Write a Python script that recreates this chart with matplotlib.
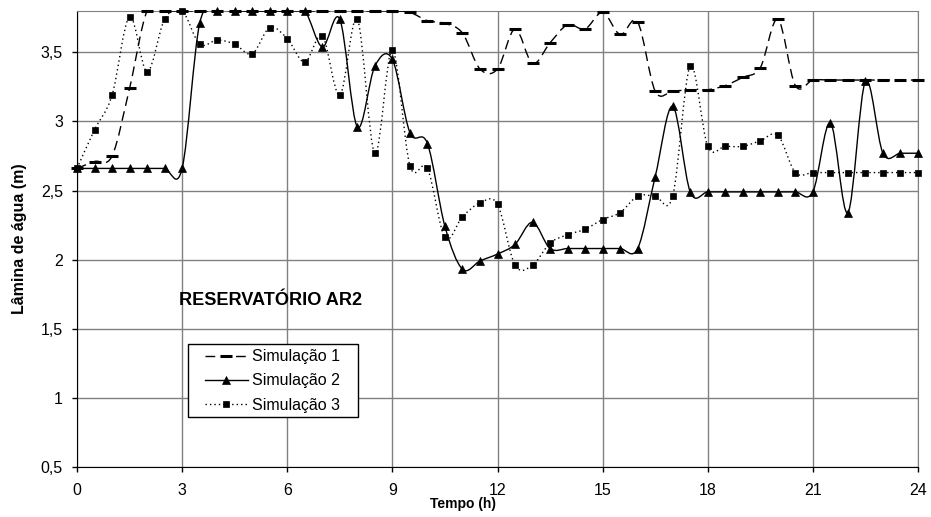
import matplotlib
matplotlib.use("Agg")
import matplotlib.pyplot as plt
from matplotlib.legend_handler import HandlerLine2D
from matplotlib.lines import Line2D
from matplotlib.patches import PathPatch
from matplotlib.path import Path
from matplotlib.ticker import FuncFormatter
import numpy as np

plt.rcParams["font.family"] = ["Liberation Sans", "DejaVu Sans"]

# ── data (every 0.5 h) ─────────────────────────────────────────────────────────
tempo = [i * 0.5 for i in range(49)]

sim1 = [2.66, 2.71, 2.75, 3.24, 3.80, 3.80, 3.80, 3.80, 3.80, 3.80,
        3.80, 3.80, 3.80, 3.80, 3.80, 3.80, 3.80, 3.80, 3.80, 3.79,
        3.73, 3.71, 3.64, 3.38, 3.38, 3.67, 3.42, 3.57, 3.70, 3.67,
        3.79, 3.63, 3.72, 3.22, 3.22, 3.23, 3.23, 3.26, 3.32, 3.39,
        3.74, 3.26, 3.30, 3.30, 3.30, 3.30, 3.30, 3.30, 3.30]

sim2 = [2.66, 2.66, 2.66, 2.66, 2.66, 2.66, 2.66, 3.71, 3.80, 3.80,
        3.80, 3.80, 3.80, 3.80, 3.54, 3.74, 2.96, 3.40, 3.45, 2.92,
        2.84, 2.24, 1.93, 1.99, 2.04, 2.11, 2.27, 2.08, 2.08, 2.08,
        2.08, 2.08, 2.08, 2.60, 3.11, 2.49, 2.49, 2.49, 2.49, 2.49,
        2.49, 2.49, 2.49, 2.99, 2.34, 3.29, 2.77, 2.77, 2.77]

sim3 = [2.66, 2.94, 3.19, 3.76, 3.36, 3.74, 3.80, 3.56, 3.59, 3.56,
        3.49, 3.68, 3.60, 3.43, 3.62, 3.19, 3.74, 2.77, 3.52, 2.68,
        2.66, 2.16, 2.31, 2.41, 2.40, 1.96, 1.96, 2.12, 2.18, 2.22,
        2.29, 2.34, 2.46, 2.46, 2.46, 3.40, 2.82, 2.82, 2.82, 2.86,
        2.90, 2.63, 2.63, 2.63, 2.63, 2.63, 2.63, 2.63, 2.63]

labels = ["Simulação 1", "Simulação 2", "Simulação 3"]


def smooth_path(x, y):
    """Excel-like smoothed line: cubic Bezier segments (Catmull-Rom)."""
    p = np.column_stack([x, y])
    n = len(p)
    verts = [p[0]]
    codes = [Path.MOVETO]
    for i in range(n - 1):
        p0 = p[i - 1] if i > 0 else p[i]
        p3 = p[i + 2] if i + 2 < n else p[i + 1]
        c1 = p[i] + (p[i + 1] - p0) / 6.0
        c2 = p[i + 1] - (p3 - p[i]) / 6.0
        verts += [c1, c2, p[i + 1]]
        codes += [Path.CURVE4] * 3
    return Path(verts, codes)


fig = plt.figure(figsize=(9.31, 5.17), dpi=100)
ax = fig.add_axes([77 / 931, 1 - 466.7 / 517, 841 / 931, 455.7 / 517])

styles = [
    dict(ls=(0, (7, 4)), marker="_", ms=8, mew=2.2),
    dict(ls="-", marker="^", ms=5.5, mew=0.5),
    dict(ls=(0, (1, 2.2)), marker="s", ms=5, mew=0.5),
]

handles = []
for y, st, lab in zip([sim1, sim2, sim3], styles, labels):
    patch = PathPatch(smooth_path(tempo, y), fill=False, edgecolor="black",
                      lw=1.0, linestyle=st["ls"], zorder=3)
    ax.add_patch(patch)
    ax.plot(tempo, y, ls="none", marker=st["marker"], ms=st["ms"],
            mew=st["mew"], color="black", zorder=4, clip_on=False)
    handles.append(Line2D([], [], color="black", lw=1.0, ls=st["ls"],
                          marker=st["marker"], ms=st["ms"], mew=st["mew"],
                          label=lab + "   "))

ax.set_xlim(0, 24)
ax.set_ylim(0.5, 3.8)
ax.set_xticks(range(0, 25, 3))
ax.set_yticks([0.5, 1, 1.5, 2, 2.5, 3, 3.5])
ax.yaxis.set_major_formatter(FuncFormatter(lambda v, _: f"{v:g}".replace(".", ",")))
ax.grid(True, color="#808080", lw=1.0)
ax.set_axisbelow(True)
ax.tick_params(labelsize=11.5, length=3.6, width=1, color="black")
ax.tick_params(axis="x", pad=8)
ax.tick_params(axis="y", pad=6.5)
for s in ["top", "right"]:
    ax.spines[s].set_color("#808080")
for s in ["left", "bottom"]:
    ax.spines[s].set_color("black")

ax.set_xlabel("Tempo (h)", fontsize=10, fontweight="bold")
ax.xaxis.set_label_coords(0.4586, -0.066)
ax.set_ylabel("Lâmina de água (m)", fontsize=11.5, fontweight="bold")
ax.yaxis.set_label_coords(-0.059, 0.5)

ax.text(2.9, 1.705, "RESERVATÓRIO AR2", fontsize=13.1, fontweight="bold",
        ha="left", va="center")

hmap = {h: HandlerLine2D(xpad=0.76) for h in handles}
leg = ax.legend(handles=handles, handler_map=hmap, loc="lower left",
                bbox_to_anchor=(0.132, 0.108), fontsize=11.5, frameon=True,
                fancybox=False, framealpha=1, edgecolor="black",
                handlelength=3.45, handletextpad=0.25, borderpad=0.3,
                labelspacing=0.58, borderaxespad=0)
leg.get_frame().set_linewidth(1.0)

fig.savefig("out.png", dpi=100)
